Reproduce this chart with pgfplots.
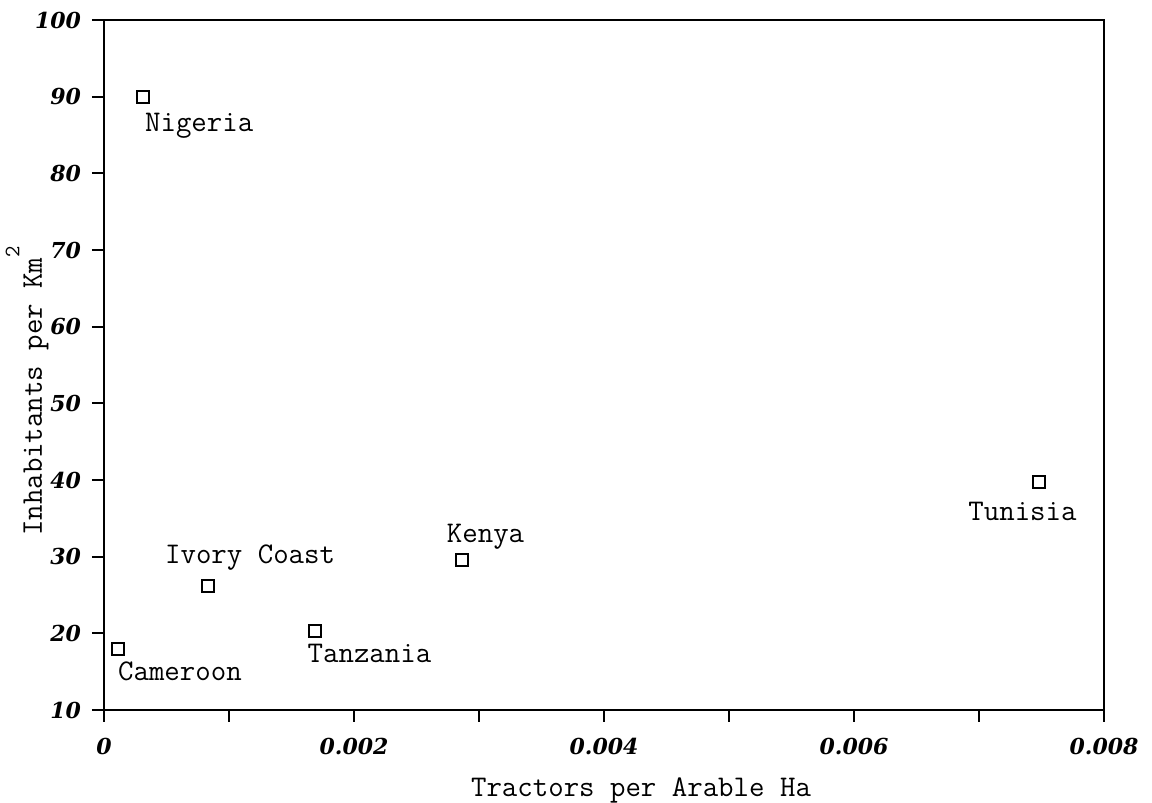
\documentclass[border=0pt]{standalone}
\usepackage{fontspec}
\newfontfamily\tickfont{DejaVu Serif}
\usepackage{pgfplots}
\pgfplotsset{compat=1.18}
\begin{document}
\begin{tikzpicture}
\useasboundingbox (-52pt,-46.5pt) rectangle (524pt,355pt);
\begin{axis}[
  at={(0,0)}, anchor=south west,
  scale only axis, width=500pt, height=345pt,
  xmin=0, xmax=0.008, ymin=10, ymax=100,
  axis line style={line width=1pt},
  every tick/.style={line width=1pt, black},
  major tick length=6pt, tick align=outside,
  xtick pos=bottom, ytick pos=left,
  xtick={0,0.001,0.002,0.003,0.004,0.005,0.006,0.007,0.008},
  xticklabels={0,,0.002,,0.004,,0.006,,0.008},
  ytick={10,20,30,40,50,60,70,80,90,100},
  yticklabels={10,20,30,40,50,60,70,80,90,100},
  scaled x ticks=false, scaled y ticks=false,
  ticklabel style={font=\fontsize{11}{13}\tickfont\bfseries\itshape},
  xticklabel style={yshift=-4.5pt},
  yticklabel style={xshift=-2pt},
  xlabel={Tractors per Arable Ha},
  ylabel={Inhabitants per Km\raisebox{0.75em}{\fontsize{11}{12}\selectfont 2}},
  xlabel style={font=\fontsize{15}{18}\selectfont\ttfamily,
    at={([xshift=18.5pt,yshift=-43.5pt]axis description cs:0.5,0)}, anchor=base},
  ylabel style={font=\fontsize{15}{18}\selectfont\ttfamily,
    at={([xshift=-31pt,yshift=-13pt]axis description cs:0,0.5)}, anchor=base},
  clip=false,
]
\addplot[only marks, mark=square, mark size=3pt, mark options={line width=1pt, black}]
  table {
x y
0.00031 90.0
0.00011 18.0
0.00083 26.2
0.00169 20.3
0.00286 29.6
0.00748 39.7
};
\begin{scope}[every node/.style={anchor=base west, inner sep=0pt, font=\fontsize{15}{18}\selectfont\ttfamily}]
\node at ([xshift=1pt,yshift=-17.5pt]axis cs:0.00031,90.0) {Nigeria};
\node at ([xshift=0pt,yshift=-16pt]axis cs:0.00011,18.0) {Cameroon};
\node at ([xshift=-21.5pt,yshift=11pt]axis cs:0.00083,26.2) {Ivory Coast};
\node at ([xshift=-4pt,yshift=-15.5pt]axis cs:0.00169,20.3) {Tanzania};
\node at ([xshift=-7.5pt,yshift=8.5pt]axis cs:0.00286,29.6) {Kenya};
\node at ([xshift=-35.5pt,yshift=-19pt]axis cs:0.00748,39.7) {Tunisia};
\end{scope}
\end{axis}
\end{tikzpicture}
\end{document}
